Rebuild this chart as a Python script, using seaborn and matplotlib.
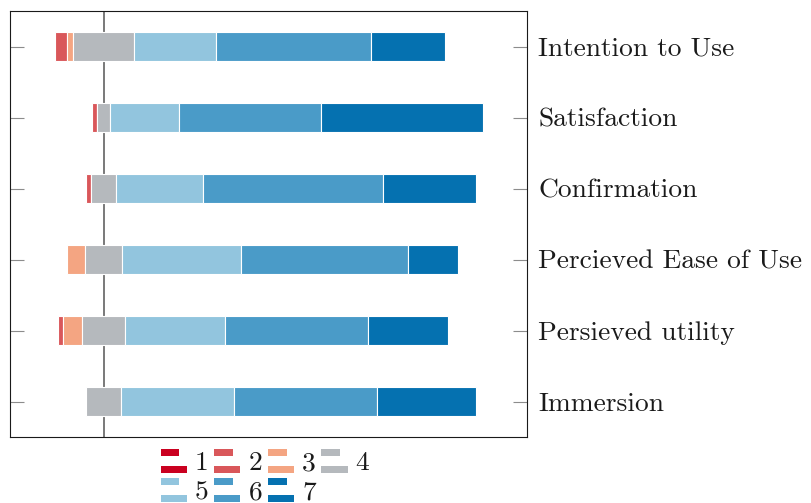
import matplotlib
matplotlib.use("Agg")
import matplotlib.pyplot as plt
import numpy as np
import pandas as pd
import seaborn as sns
from matplotlib.patches import Patch, Rectangle
from matplotlib.legend_handler import HandlerBase

# Survey constructs (top to bottom) and share of answers (%) per Likert level
constructs = ["Intention to Use", "Satisfaction", "Confirmation",
              "Percieved Ease of Use", "Persieved utility", "Immersion"]
level_1 = [0.0, 0.0, 0.0, 0.0, 0.0, 0.0]
level_2 = [3.0, 1.3, 1.2, 0.0, 1.3, 0.0]
level_3 = [1.6, 0.0, 0.0, 4.8, 4.9, 0.0]
level_4 = [15.7, 3.3, 6.4, 9.3, 11.1, 9.1]
level_5 = [20.9, 17.6, 22.3, 30.4, 25.5, 28.7]
level_6 = [39.6, 36.4, 46.0, 42.9, 36.6, 36.6]
level_7 = [19.1, 41.4, 23.8, 12.8, 20.5, 25.3]
level_names = ["1", "2", "3", "4", "5", "6", "7"]
level_colors = ["#ca0020", "#d9575a", "#f4a582", "#b5b9bd",
                "#92c5de", "#4a9bc8", "#0571b0"]

levels = [level_1, level_2, level_3, level_4, level_5, level_6, level_7]
df = pd.DataFrame({"construct": constructs})
for name, vals in zip(level_names, levels):
    df[name] = vals

# diverging: neutral answer (4) centred on zero
start = -(df["1"] + df["2"] + df["3"] + df["4"] / 2)


class TwoBarHandler(HandlerBase):
    # pgfplots-like xbar legend image: short bar on top, long bar below
    def create_artists(self, legend, orig_handle, xdescent, ydescent,
                       width, height, fontsize, trans):
        c = orig_handle.get_facecolor()
        bh = height * 0.3
        top = Rectangle((-xdescent, -ydescent + height - bh), width * 0.72, bh,
                        facecolor=c, edgecolor="none", transform=trans)
        bot = Rectangle((-xdescent, -ydescent), width, bh,
                        facecolor=c, edgecolor="none", transform=trans)
        return [top, bot]


sns.set_style("white")
plt.rcParams["font.family"] = ["cmr10", "DejaVu Serif"]
plt.rcParams["axes.formatter.use_mathtext"] = True

fig = plt.figure(figsize=(8.12, 5.03), dpi=100)
ax = fig.add_axes([10 / 812, 1 - 437 / 503, 517 / 812, 426 / 503])

ax.axvline(0, color="#555555", lw=1.1, zorder=0)

left = start.copy()
for name, color in zip(level_names, level_colors):
    sns.barplot(data=df, x=name, y="construct", orient="h", color=color,
                saturation=1, width=0.4, left=left.values, edgecolor="white",
                linewidth=0.8, ax=ax, zorder=2)
    left = left + df[name]

ax.set_xlim(-23.94, 108.3)
ax.set_ylim(5.5, -0.5)
ax.set_xticks([])
ax.set_xlabel("")
ax.set_ylabel("")
ax.tick_params(axis="y", left=True, right=True, labelleft=False, labelright=True,
               direction="in", length=10, width=0.8, color="#8c8c8c", pad=8,
               labelsize=19.8, labelcolor="#1a1a1a")
for sp in ax.spines.values():
    sp.set_visible(True)
    sp.set_color("#1a1a1a")
    sp.set_linewidth(0.8)

handles = [Patch(facecolor=c, label=n) for n, c in zip(level_names, level_colors)]
order = [0, 4, 1, 5, 2, 6, 3]
ax.legend([handles[i] for i in order], [level_names[i] for i in order],
          handler_map={Patch: TwoBarHandler()}, ncol=4, frameon=False,
          loc="upper center", bbox_to_anchor=(265 / 812, 1 - 435 / 503),
          bbox_transform=fig.transFigure, fontsize=19.8, handlelength=0.95,
          handleheight=1.0, handletextpad=0.3, columnspacing=0.2,
          labelspacing=0.08, borderpad=0, labelcolor="#1a1a1a")

fig.savefig("out.png", dpi=100)
